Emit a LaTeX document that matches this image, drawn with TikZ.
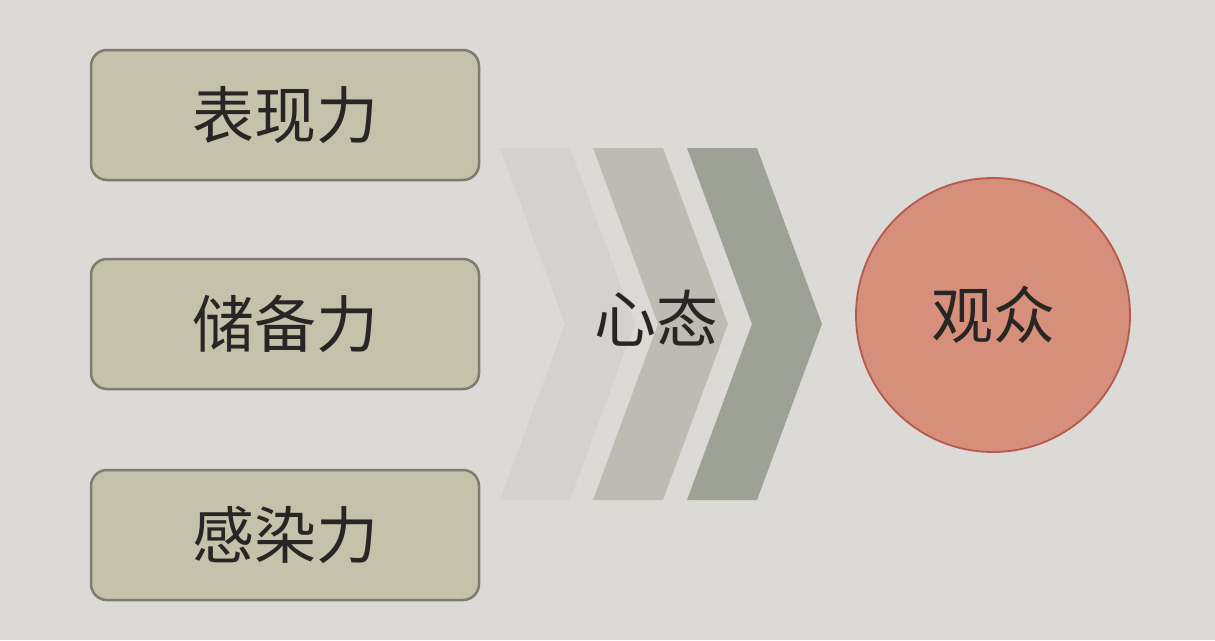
\documentclass[tikz,border=0pt]{standalone}
\usepackage{fontspec}
\setmainfont{Noto Sans CJK SC}
\usetikzlibrary{positioning}
\definecolor{paper}{RGB}{220, 218, 214}
\definecolor{khaki}{RGB}{197, 194, 172}
\definecolor{khakiedge}{RGB}{126, 124, 110}
\definecolor{ash}{RGB}{211, 210, 206}
\definecolor{stone}{RGB}{188, 188, 181}
\definecolor{sage}{RGB}{158, 161, 150}
\definecolor{salmon}{RGB}{214, 143, 122}
\definecolor{brick}{RGB}{180, 90, 78}
\definecolor{ink}{RGB}{40, 38, 36}

\begin{document}
\begin{tikzpicture}[x=1pt, y=-1pt,
        bigtext/.style={font=\fontsize{62}{64}\selectfont, text=ink},
        power/.style={bigtext, draw=khakiedge, fill=khaki, line width=2.5pt, rounded corners=16pt,
                      minimum width=388pt, minimum height=130pt, inner sep=0pt},
        crowd/.style={bigtext, circle, draw=brick, fill=salmon, line width=1.8pt, minimum size=274pt, inner sep=0pt}]
            \fill[paper] (0,0) rectangle (1215,640);
            \useasboundingbox (0,0) rectangle (1215,640);
            % three chevrons
            \fill[ash]   (500,148) -- (570,148) -- (635,324) -- (570,500) -- (500,500) -- (565,324) -- cycle;
            \fill[stone] (593,148) -- (663,148) -- (728,324) -- (663,500) -- (593,500) -- (658,324) -- cycle;
            \fill[sage]  (687,148) -- (757,148) -- (822,324) -- (757,500) -- (687,500) -- (752,324) -- cycle;
            \node[power] (biaoxian) at (285,115)             {表现力};
            \node[power, below=76.5pt of biaoxian] (chubei)  {储备力};
            \node[power, below=78.5pt of chubei]   (ganran)  {感染力};
            \node[bigtext] (xintai) at (656,318)             {心态};
            \node[crowd]   (guanzhong) at (993,315)          {观众};
        \end{tikzpicture}
\end{document}
